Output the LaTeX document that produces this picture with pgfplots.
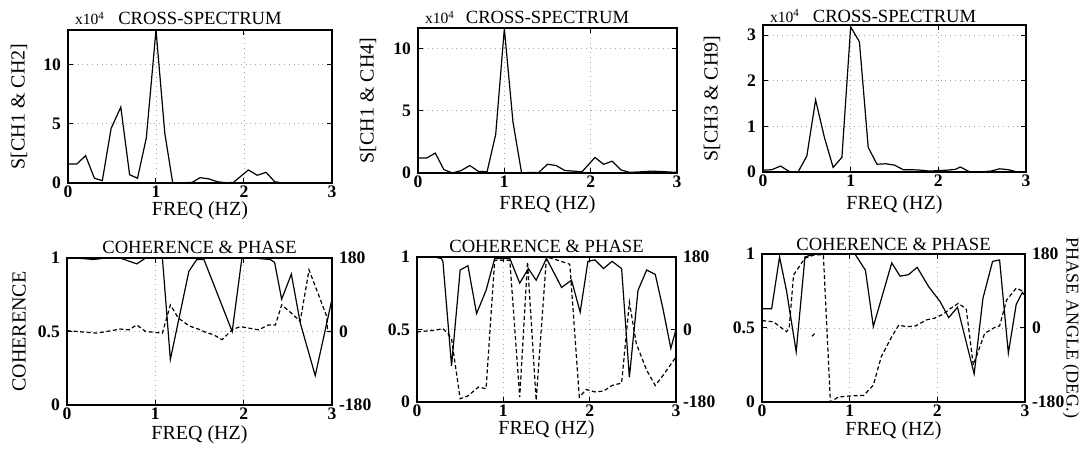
\documentclass[border=0pt]{standalone}
\usepackage{fontspec}
\setmainfont{Liberation Serif}
\usepackage{pgfplots}
\pgfplotsset{compat=1.18}

\pgfplotsset{
  panel/.style={
    scale only axis, xmin=0, xmax=3, xtick={0,1,2,3},
    clip mode=individual,
    tick align=inside, major tick length=2.5pt,
    axis line style={line width=0.6pt},
    every tick/.style={black, line width=0.5pt},
    grid=major, grid style={dotted, gray!70, line width=0.4pt},
    tick label style={font=\fontsize{8.8}{10}\selectfont\bfseries},
    xticklabel style={inner sep=1pt},
    label style={font=\fontsize{10}{12}\selectfont},
    /pgf/number format/assume math mode=true,
    xlabel={FREQ (HZ)},
  },
  phaseax/.style={
    scale only axis, xmin=0, xmax=3, axis x line=none, axis y line*=right,
    ymin=-180, ymax=180, ytick={-180,0,180},
    tick align=inside, major tick length=2.5pt,
    axis line style={line width=0.6pt},
    every tick/.style={black, line width=0.5pt},
    tick label style={font=\fontsize{8.8}{10}\selectfont\bfseries},
    label style={font=\fontsize{9}{11}\selectfont},
    /pgf/number format/assume math mode=true,
  },
  ylab/.style={ylabel style={at={([xshift=-#1]axis description cs:0,0.5)}, anchor=center}},
  xlab/.style={xlabel style={at={([yshift=-#1]axis description cs:0.5,0)}, anchor=center}},
  curve/.style={black, line width=0.6pt},
  dcurve/.style={black, line width=0.6pt, dash pattern=on 2pt off 1.3pt},
}
\newcommand{\ttl}[2]{\node[font=\fontsize{9.3}{11}\selectfont] at ([yshift=#1]rel axis cs:0.5,1) {#2};}
\newcommand{\expo}[1]{\node[font=\fontsize{7.8}{9}\selectfont, anchor=west] at ([yshift=#1]rel axis cs:0,1) {x10\textsuperscript{4}};}

\begin{document}
\begin{tikzpicture}
\useasboundingbox (0,0) rectangle (545.5pt,227pt);

% ---------- top row: cross-spectra ----------
\begin{axis}[panel, at={(34pt,135.5pt)}, anchor=south west, width=132pt, height=76.5pt,
  ymin=0, ymax=12.9, ytick={0,5,10}, ylabel={S[CH1 \& CH2]}, ylab=24.5pt, xlab=14pt]
\addplot[curve] coordinates {
 (0,1.6) (0.1,1.6) (0.2,2.3) (0.3,0.4) (0.39,0.2) (0.49,4.6) (0.6,6.4) (0.7,0.7)
 (0.79,0.4) (0.89,3.8) (1.0,12.9) (1.1,4.2) (1.19,0) (1.3,0.02) (1.41,0.05) (1.5,0.45)
 (1.6,0.35) (1.7,0.1) (1.8,0.02) (1.88,0.05) (2.05,1.1) (2.15,0.65) (2.25,0.9) (2.35,0.1)
 (2.45,0) (2.6,0) (2.8,0) (3,0)};
\ttl{5.75pt}{CROSS-SPECTRUM}
\expo{5.75pt}
\end{axis}

\begin{axis}[panel, at={(209pt,140.5pt)}, anchor=south west, width=129.5pt, height=72.5pt,
  ymin=0, ymax=11.65, ytick={0,5,10}, ylabel={S[CH1 \& CH4]}, ylab=25pt, xlab=16pt]
\addplot[curve] coordinates {
 (0,1.2) (0.1,1.2) (0.2,1.6) (0.3,0.27) (0.4,0) (0.5,0.2) (0.6,0.6) (0.7,0.13) (0.8,0.1)
 (0.9,3.1) (1.0,11.6) (1.1,4.1) (1.2,0) (1.3,0.05) (1.4,0.05) (1.5,0.7) (1.6,0.6) (1.7,0.2)
 (1.8,0.15) (1.9,0.1) (2.05,1.25) (2.15,0.7) (2.25,0.95) (2.35,0.25) (2.45,0.05) (2.6,0.1)
 (2.7,0.15) (2.8,0.12) (3,0.05)};
\ttl{5.25pt}{CROSS-SPECTRUM}
\expo{5.25pt}
\end{axis}

\begin{axis}[panel, at={(381.5pt,141pt)}, anchor=south west, width=131.5pt, height=73.5pt,
  ymin=0, ymax=3.22, ytick={0,1,2,3}, ylabel={S[CH3 \& CH9]}, ylab=25.5pt, xlab=16.5pt]
\addplot[curve] coordinates {
 (0,0.04) (0.1,0.05) (0.2,0.13) (0.3,0.01) (0.4,0) (0.5,0.35) (0.6,1.58) (0.7,0.76)
 (0.8,0.1) (0.9,0.32) (1.0,3.18) (1.1,2.85) (1.2,0.54) (1.3,0.17) (1.4,0.18) (1.5,0.15)
 (1.6,0.05) (1.7,0.05) (1.8,0.04) (1.9,0.02) (2.0,0.03) (2.1,0.04) (2.2,0.06) (2.25,0.11)
 (2.35,0.01) (2.45,0) (2.6,0.02) (2.7,0.07) (2.8,0.05) (2.9,0) (3.0,0)};
\ttl{4.5pt}{CROSS-SPECTRUM}
\expo{4.5pt}
\end{axis}

% ---------- bottom row: coherence (solid) and phase (dashed) ----------
\begin{axis}[panel, at={(33.5pt,24.5pt)}, anchor=south west, width=132.5pt, height=73.5pt,
  ymin=0, ymax=1, ytick={0,0.5,1}, ytick pos=left, ylabel={COHERENCE}, ylab=24pt, xlab=15pt]
\addplot[curve] coordinates {
 (0,1) (0.1,1) (0.3,0.99) (0.45,1) (0.6,1) (0.79,0.96) (0.89,1) (1.08,1) (1.17,0.31)
 (1.38,0.91) (1.47,0.99) (1.55,0.99) (1.87,0.5) (1.98,1) (2.1,1) (2.3,0.99) (2.35,0.97)
 (2.43,0.72) (2.54,0.89) (2.64,0.56) (2.81,0.2) (3.0,0.72)};
\ttl{5.25pt}{COHERENCE \& PHASE}
\end{axis}
\begin{axis}[phaseax, at={(33.5pt,24.5pt)}, anchor=south west, width=132.5pt, height=73.5pt]
\addplot[dcurve] coordinates {
 (0,2) (0.34,-4) (0.5,2) (0.6,6) (0.7,4) (0.79,16) (0.89,0) (1.08,-4) (1.17,65) (1.26,33)
 (1.38,14) (1.51,4) (1.57,-2) (1.66,-8) (1.755,-20) (1.87,4) (1.96,12) (2.17,4) (2.28,16)
 (2.36,16) (2.43,65) (2.54,45) (2.64,25) (2.74,151) (2.94,37) (2.95,0) (3.0,0)};
\end{axis}

\begin{axis}[panel, at={(208.5pt,26pt)}, anchor=south west, width=129.5pt, height=72.5pt,
  ymin=0, ymax=1, ytick={0,0.5,1}, ytick pos=left, xlab=14pt]
\addplot[curve] coordinates {
 (0,1) (0.1,1) (0.2,1) (0.28,0.99) (0.3,0.97) (0.4,0.25) (0.5,0.91) (0.59,0.94) (0.69,0.61)
 (0.8,0.77) (0.9,0.99) (1.075,0.99) (1.19,0.82) (1.29,0.92) (1.38,0.84) (1.5,0.99)
 (1.675,0.79) (1.79,0.84) (1.89,0.62) (1.98,0.97) (2.06,0.98) (2.16,0.92) (2.26,0.97)
 (2.37,0.92) (2.46,0.17) (2.56,0.77) (2.66,0.91) (2.76,0.88) (2.85,0.64) (2.94,0.37) (3.0,0.5)};
\ttl{5.5pt}{COHERENCE \& PHASE}
\end{axis}
\begin{axis}[phaseax, at={(208.5pt,26pt)}, anchor=south west, width=129.5pt, height=72.5pt]
\addplot[dcurve] coordinates {
 (0,-6) (0.2,-2) (0.3,2) (0.35,-8) (0.4,-23) (0.5,-172) (0.59,-165) (0.71,-143) (0.8,-147)
 (0.9,172) (1.075,172) (1.19,-168) (1.28,168) (1.38,-176) (1.5,180) (1.6,174) (1.77,162)
 (1.88,-168) (1.96,-149) (2.06,-155) (2.16,-153) (2.26,-139) (2.37,-133) (2.46,68)
 (2.54,-35) (2.66,-101) (2.76,-139) (2.85,-114) (3.0,-68)};
\end{axis}

\begin{axis}[panel, at={(381pt,26pt)}, anchor=south west, width=131.5pt, height=74pt,
  ymin=0, ymax=1, ytick={0,0.5,1}, ytick pos=left, xlab=14.5pt]
\addplot[curve] coordinates {
 (0,0.63) (0.11,0.63) (0.2,0.98) (0.28,0.75) (0.39,0.34) (0.49,0.98) (0.6,1) (0.8,1)
 (1.06,1) (1.18,0.89) (1.27,0.51) (1.48,0.94) (1.575,0.85) (1.67,0.86) (1.77,0.91)
 (1.9,0.78) (2.03,0.68) (2.13,0.57) (2.23,0.64) (2.42,0.19) (2.52,0.7) (2.63,0.95)
 (2.71,0.96) (2.81,0.33) (2.9,0.66) (2.97,0.74) (3.0,0.72)};
\ttl{5pt}{COHERENCE \& PHASE}
\end{axis}
\begin{axis}[phaseax, at={(381pt,26pt)}, anchor=south west, width=131.5pt, height=74pt,
  ylabel={PHASE ANGLE (DEG.)},
  ylabel style={at={([xshift=23pt]axis description cs:1,0.5)}, anchor=center, rotate=180}]
\addplot[dcurve] coordinates {
 (0,18) (0.13,15) (0.28,-9) (0.31,0) (0.36,129) (0.49,170) (0.6,178) (0.7,178) (0.78,-180)
 (0.87,-168) (1.02,-165) (1.16,-164) (1.27,-139) (1.36,-70) (1.48,-21) (1.56,7) (1.65,3)
 (1.75,5) (1.88,20) (1.97,24) (2.07,34) (2.14,46) (2.24,60) (2.33,46) (2.41,-90) (2.54,-13)
 (2.66,2) (2.71,5) (2.79,68) (2.9,97) (2.97,90) (3.0,85)};
\addplot[dcurve] coordinates {(0.57,-20) (0.6,-14)};
\end{axis}
\end{tikzpicture}
\end{document}
